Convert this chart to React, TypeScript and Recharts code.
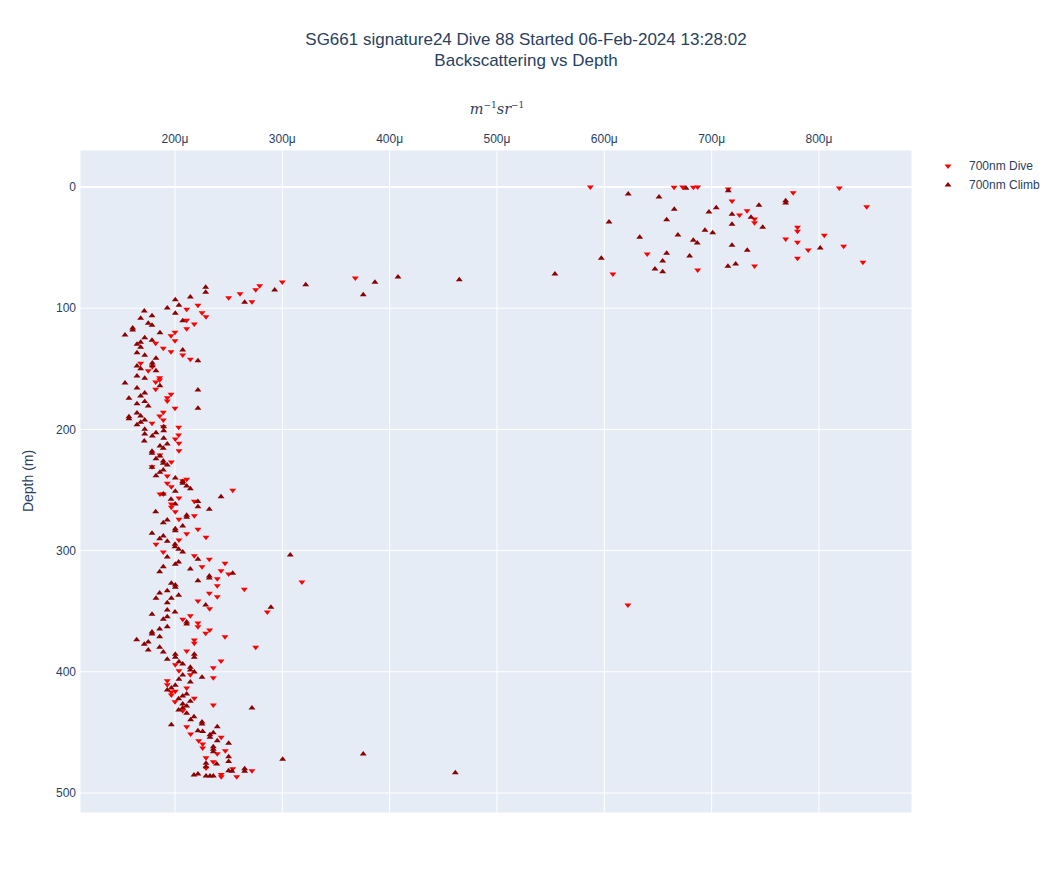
import React from "react";
import { ScatterChart, Scatter, XAxis, YAxis, CartesianGrid, ReferenceLine } from "recharts";

// Backscattering values in micro (µ) units of m^-1 sr^-1, depths in metres
const diveValues = [
  587, 665, 673, 683, 687, 715.5, 719, 776, 819, 844.5, 726, 733, 740, 740, 780, 780, 769, 780, 805, 790, 823, 780, 841, 640, 608, 687, 740,
  250, 260.6, 275.2, 278.9, 300, 368, 271.7, 210.9, 221.4, 225.2, 228.9, 210.9, 218, 210.9,
  200, 196.3, 200, 182, 189.1, 196.3, 207.2, 214.3, 168, 175.1, 178.9, 185.7, 182, 185.7, 182, 196.3, 192.8, 192.8, 200, 189.1, 185.7, 189.1, 178.6, 203.4, 203.4, 189.1,
  200.3, 203.7, 203.7, 186, 196.6, 178.6, 192.8, 210.9, 207.2, 192.8, 196.6, 186, 189.1, 203.7, 196.6, 196.6, 200.3, 218, 218, 203.7, 221.4, 210.9, 228.9, 203.7, 182.3, 189.1, 218, 232, 246.6, 225.2, 242.9, 250, 239.4, 239.4, 264.6, 232, 239.4, 253.8, 318.3,
  221.4, 232.3, 214.3, 207.2, 221.4, 221.4, 232.3, 228.6, 246.6, 218, 218, 275.2, 210.9, 242.9, 200.3, 203.7, 235.7, 214.3, 235.7, 192.8, 192.8, 210.9, 196.6, 200.3, 196.6, 218, 200, 235.7, 286, 622,
  207.2, 210.9, 214.6, 243.1, 222.1, 225.8, 225.8, 246.9, 239.4, 228.9, 235.7, 253.8, 257.5, 271.7, 243.1, 243.1, 228.9,
];
const diveDepths = [
  0, 0.2, 0, 0.2, 0, 1.7, 11.5, 4.7, 0.8, 16.3, 23.1, 19.6, 26.4, 29.5, 33.3, 36.6, 42.9, 45.6, 39.9, 52, 48.9, 58.8, 62.1, 55.3, 71.8, 68.5, 65.2,
  91.3, 88, 84.7, 81.4, 78.4, 75.1, 94.6, 100.9, 97.6, 103.7, 107, 110, 113, 116.9,
  119.9, 122.7, 126.8, 129, 133.1, 135.9, 138.6, 142.2, 145.5, 151.6, 148.3, 157.3, 160.9, 159.2, 166.9, 171, 173.8, 176.6, 182.6, 185.9, 188.9, 192.2, 195, 198.3, 204.6, 197.8,
  207.9, 211.5, 217.6, 221.1, 226.9, 230.8, 238.4, 241.2, 242.3, 244.5, 247.3, 253.3, 253.3, 256.6, 261.5, 264.3, 267.9, 259.3, 271.2, 274.2, 282.4, 286.1, 289, 291.2, 294.8, 301.1, 304.2, 307.2, 310.5, 313.3, 316.6, 319.3, 323.2, 329, 331.9, 335.2, 338, 250.2, 325.9,
  341.6, 347.9, 353.7, 356.7, 359.7, 362.8, 365.5, 368.2, 371, 373.8, 376.5, 379.8, 382.8, 391.1, 394.1, 399.1, 396.6, 402.4, 404.9, 407.3, 410.6, 413.4, 416.7, 416.1, 419.1, 421.9, 424.7, 427.4, 350.7, 344.9,
  432.1, 445.3, 451.3, 454, 456.8, 459.6, 462.9, 465.1, 467.7, 471, 474.3, 479.9, 486.5, 481.6, 484.8, 486.5, 479.4,
];
const climbValues = [
  622.3, 651, 676.1, 715.5, 769, 769, 665.2, 704.3, 697.5, 719, 744.1, 736.7, 658.1, 604.4, 719, 747.6, 693.8, 701, 668.6, 633, 682.9, 686.6, 719, 733.2, 801.2, 658.1, 597.2, 679.5, 654.4, 647.2, 654.4, 715.2, 722.4, 554,
  228.6, 228.6, 214.3, 200.3, 203.7, 192.8, 200.3, 171.4, 178.6, 168, 175.1, 178.6, 160.6, 207.2, 264.9, 292.9, 321.8, 375.4, 386.3, 407.8, 464.9,
  160.6, 153.4, 171.8, 186, 178.6, 164.6, 168, 168, 164.6, 171.8, 182.3, 207.2, 221.4, 164.6, 168, 178.9, 178.9, 182.3, 164.6, 171.8, 153.4, 186, 164.6, 171.8, 168, 157.1, 171.8, 175.1, 164.6, 221.4, 221.4, 157.1, 157.1, 164.6, 168, 171.8, 164.6, 168, 189.5, 189.5, 171.8, 171.8, 178.9, 189.5, 182.3,
  171.4, 192.8, 186, 189.1, 178.6, 178.6, 186, 182.3, 189.1, 189.1, 192.8, 178.6, 186, 189.1, 182.3, 200.3, 207.2, 207.2, 210.9, 214.3, 200.3, 189.1, 196.3, 200.3, 221.4, 221.4, 232, 242.9, 182, 210.9, 210.9, 192.8, 189.1, 207.2, 200.3, 200.3, 178.6, 185.7, 189.1, 192.8, 200, 200, 203.4, 207.2, 192.8, 203.4, 200.3, 221.4, 189.1, 185.7, 214.3, 232, 232, 221.4, 253.8, 196.6, 200.3, 200.3, 192.8, 185.7, 203.4, 182.3, 196.6, 307.4,
  192.8, 228.6, 289.4, 192.8, 178.6, 200, 189.1, 192.8, 210.9, 210.9, 178.6, 178.6, 185.7, 192.8, 185.7, 164.3, 175.1, 171.4, 175.1, 185.7, 189.1, 200.3, 200.3, 218, 218, 192.8, 203.7, 207.2, 214.3, 214.3, 218, 207.2, 203.7, 225.2, 214.3, 200.3, 192.8, 196.6, 207.2, 203.4, 210.9, 214.3, 207.2, 210.9, 271.7,
  203.4, 210.9, 207.2, 196.6, 217.7, 214.6, 225.2, 225.2, 221.4, 225.8, 239.4, 232.6, 232.6, 235.7, 239.4, 250, 235.7, 235.7, 235.7, 250, 250, 228.9, 228.9, 238.9, 250, 253.1, 264.9, 264.9, 217.7, 221.4, 228.9, 232.6, 235.7, 300.3, 375.4, 461.2,
];
const climbDepths = [
  5.8, 8.3, 1.1, 3.1, 11.3, 13.2, 18.4, 17.1, 20.6, 22.5, 15.1, 25, 27, 28.9, 30.8, 33.3, 35.7, 37.7, 39.6, 41.5, 44, 46.2, 48.1, 52.2, 50.3, 54.7, 58.8, 56.9, 61.1, 67.7, 69.9, 65.4, 63.5, 71.8,
  82.8, 86.9, 90.8, 93, 97.5, 99.8, 104.1, 102.3, 106.2, 108.3, 112.5, 114.1, 116.3, 110.4, 95.1, 85, 80.6, 88.9, 78.6, 74.3, 76.5,
  118, 122.1, 124.3, 120.2, 126.5, 129.8, 128.1, 132.3, 136.7, 138.9, 141.3, 134.5, 143.3, 147.7, 149.9, 145.2, 147.4, 151.6, 155.9, 157.8, 161.7, 163.9, 165.8, 170, 172.4, 174.3, 177.1, 180.7, 178.8, 167.5, 182.6, 189.5, 191.2, 186.5, 188.9, 192.2, 196.1, 194.1, 197.8, 201.1, 199.9, 203.8, 205.4, 207.3, 202.7,
  209.6, 212, 213.7, 215.6, 218.1, 219.7, 221.9, 224.2, 226.1, 228, 229.4, 231.3, 235.4, 233.5, 238.2, 240.1, 243.1, 244.5, 246.7, 248.9, 251.1, 253.3, 257.7, 261.5, 259.6, 263.8, 265.9, 255.5, 267.9, 270.9, 272.5, 274.7, 277, 279.7, 281.9, 283.6, 285.7, 290.2, 287.9, 292.3, 294.8, 296.8, 298.9, 301.1, 305.3, 309.4, 311.3, 307.2, 313.3, 317.4, 315.2, 321, 322.6, 324.8, 318.7, 327, 328.4, 330.3, 333.1, 335, 336.9, 339.4, 339.4, 303.6,
  343, 344.9, 346.8, 349, 352.6, 350.7, 356.7, 354.5, 358.9, 360.6, 367.2, 368.8, 364.7, 362.8, 371, 373.5, 375.4, 377.3, 382, 379.8, 383.7, 385.6, 388, 385.6, 388, 389.7, 391.7, 393.6, 396.3, 398.5, 400.2, 402.6, 406.2, 404.5, 408.4, 411.1, 415, 413.4, 420, 422.2, 418.3, 424.3, 426.5, 428.2, 429.9,
  431.6, 434.3, 429.9, 443.6, 437, 439.5, 441.4, 443.1, 448.7, 449.3, 445.3, 451.9, 454, 450.2, 456.8, 459, 461.8, 463.9, 465.9, 470, 474.1, 475.5, 478.3, 476.1, 481.6, 482.1, 480, 482.1, 485.1, 484.3, 486, 486, 486, 472.2, 467.8, 483.2,
];
const xTicks = [200, 300, 400, 500, 600, 700, 800];
const yTicks = [0, 100, 200, 300, 400, 500];
const seriesNames = ["700nm Dive", "700nm Climb"];
const titleLines = ["SG661 signature24 Dive 88 Started 06-Feb-2024 13:28:02", "Backscattering vs Depth"];

const diveData = diveValues.map((v, i) => ({ value: v, depth: diveDepths[i] }));
const climbData = climbValues.map((v, i) => ({ value: v, depth: climbDepths[i] }));

const DIVE_COLOR = "#ff0000";
const CLIMB_COLOR = "#8b0000";
const TEXT_COLOR = "#2a3f5f";
const FONT = '"Liberation Sans", Arial, sans-serif';

const RT = 3.46;
const RS = 1.5;
const R = 3;

const DownTri = (props: any) => {
  const { cx, cy } = props;
  if (cx == null || cy == null) return null;
  return <path d={`M${cx - RT},${cy - RS}H${cx + RT}L${cx},${cy + R}Z`} fill={DIVE_COLOR} />;
};
const UpTri = (props: any) => {
  const { cx, cy } = props;
  if (cx == null || cy == null) return null;
  return <path d={`M${cx - RT},${cy + RS}H${cx + RT}L${cx},${cy - R}Z`} fill={CLIMB_COLOR} />;
};

const LegendBox = () => (
  <div style={{ position: "absolute", left: 940, top: 156, fontFamily: FONT, fontSize: 12, color: TEXT_COLOR }}>
    {seriesNames.map((name, i) => (
      <div key={name} style={{ display: "flex", alignItems: "center", height: 19 }}>
        <svg width={20} height={12} style={{ marginRight: 9 }}>
          {i === 0 ? (
            <path d={`M${8 - RT},${6 - RS}H${8 + RT}L8,${6 + R}Z`} fill={DIVE_COLOR} />
          ) : (
            <path d={`M${8 - RT},${6 + RS}H${8 + RT}L8,${6 - R}Z`} fill={CLIMB_COLOR} />
          )}
        </svg>
        <span>{name}</span>
      </div>
    ))}
  </div>
);

export default function App() {
  return (
    <div style={{ position: "absolute", left: 0, top: 0, width: 1058, height: 894, background: "#fff" }}>
      <div
        style={{
          position: "absolute",
          left: 0,
          top: 29,
          width: 1052,
          textAlign: "center",
          fontFamily: FONT,
          fontSize: 17,
          lineHeight: "21px",
          color: TEXT_COLOR,
        }}
      >
        <div>{titleLines[0]}</div>
        <div>{titleLines[1]}</div>
      </div>
      <div
        style={{
          position: "absolute",
          left: 397,
          width: 200,
          top: 100,
          textAlign: "center",
          fontFamily: '"DejaVu Serif", "Liberation Serif", serif',
          fontStyle: "italic",
          fontSize: 14.5,
          color: TEXT_COLOR,
        }}
      >
        m<sup style={{ fontSize: 9, fontStyle: "normal" }}>−1</sup>sr<sup style={{ fontSize: 9, fontStyle: "normal" }}>−1</sup>
      </div>
      <div
        style={{
          position: "absolute",
          left: 28,
          top: 481,
          transform: "translate(-50%, -50%) rotate(-90deg)",
          fontFamily: FONT,
          fontSize: 14,
          color: TEXT_COLOR,
          whiteSpace: "nowrap",
        }}
      >
        Depth (m)
      </div>
      <ScatterChart width={1058} height={894} margin={{ top: 130, left: 40, right: 146, bottom: 81 }}>
        <CartesianGrid stroke="#ffffff" strokeWidth={1} fill="#E5ECF6" fillOpacity={1} />
        <XAxis
          type="number"
          dataKey="value"
          orientation="top"
          height={20}
          domain={[111.5, 886.7]}
          allowDataOverflow
          ticks={xTicks}
          tickFormatter={(v: number) => `${v}μ`}
          axisLine={false}
          tickLine={false}
          tickSize={5}
          tickMargin={2}
          tick={{ fill: TEXT_COLOR, fontSize: 12, fontFamily: FONT }}
        />
        <YAxis
          type="number"
          dataKey="depth"
          reversed
          width={40}
          domain={[-30.5, 516.5]}
          allowDataOverflow
          ticks={yTicks}
          axisLine={false}
          tickLine={false}
          tickSize={2}
          tickMargin={2}
          tick={{ fill: TEXT_COLOR, fontSize: 12, fontFamily: FONT }}
        />
        <ReferenceLine y={0} stroke="#ffffff" strokeWidth={2} />
        <Scatter name={seriesNames[0]} data={diveData} shape={DownTri} isAnimationActive={false} />
        <Scatter name={seriesNames[1]} data={climbData} shape={UpTri} isAnimationActive={false} />
      </ScatterChart>
      <LegendBox />
    </div>
  );
}
